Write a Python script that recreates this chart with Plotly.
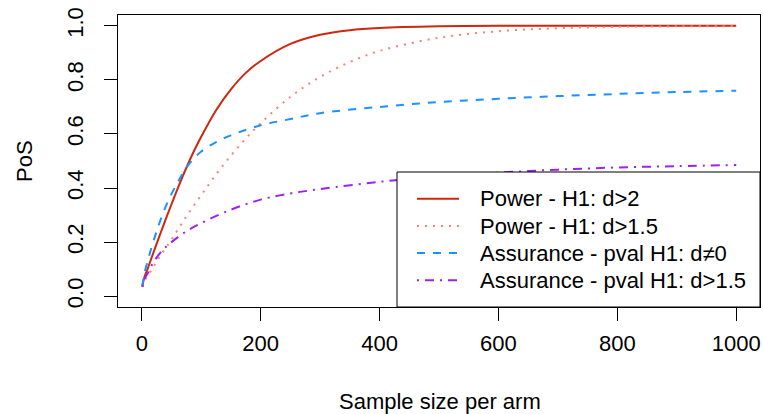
import plotly.graph_objects as go

# ---- data ----
n_red = [1, 3, 5, 10, 20, 30, 40, 50, 60, 75, 90, 100, 125, 150, 175, 200, 250, 300, 350, 400, 500, 600, 700, 800, 900, 1000]
pow_d2 = [0.041, 0.058, 0.074, 0.102, 0.164, 0.224, 0.283, 0.34, 0.396, 0.475, 0.547, 0.59, 0.688, 0.765, 0.826, 0.87, 0.933, 0.967, 0.984, 0.992, 0.998, 1.0, 1.0, 1.0, 1.0, 1.0]

n_pink = [1, 5, 10, 20, 30, 50, 75, 100, 125, 150, 175, 200, 250, 300, 350, 400, 500, 600, 700, 800, 900, 1000]
pow_d15 = [0.036, 0.058, 0.075, 0.11, 0.145, 0.21, 0.295, 0.374, 0.45, 0.52, 0.583, 0.64, 0.737, 0.811, 0.866, 0.907, 0.956, 0.98, 0.991, 0.996, 0.998, 0.999]

n_blue = [1, 5, 10, 15, 25, 40, 60, 80, 100, 125, 150, 200, 250, 300, 400, 500, 600, 700, 800, 900, 1000]
ass_d0 = [0.035, 0.09, 0.13, 0.17, 0.24, 0.33, 0.42, 0.49, 0.535, 0.57, 0.595, 0.632, 0.655, 0.677, 0.70, 0.718, 0.73, 0.74, 0.748, 0.755, 0.76]

n_purple = [1, 5, 10, 20, 35, 50, 75, 100, 150, 200, 250, 300, 400, 500, 600, 700, 800, 900, 1000]
ass_d15 = [0.034, 0.065, 0.085, 0.127, 0.17, 0.2, 0.24, 0.27, 0.32, 0.357, 0.38, 0.396, 0.423, 0.443, 0.457, 0.468, 0.476, 0.481, 0.485]

legend_labels = ["Power - H1: d>2", "Power - H1: d>1.5",
                 "Assurance - pval H1: d\u22600", "Assurance - pval H1: d>1.5"]
colors = ["#D0260E", "#FA8072", "#1E90FF", "#A020F0"]
dashes = ["solid", "2px,6px", "8px,8px", "2px,6px,9px,6px"]

x_ticks = [0, 200, 400, 600, 800, 1000]
y_ticks = [0.0, 0.2, 0.4, 0.6, 0.8, 1.0]
y_ticktext = ["0.0", "0.2", "0.4", "0.6", "0.8", "1.0"]

FONT = "Liberation Sans, Arial, sans-serif"
FS = 22

W, H = 763, 414
L, R, T, B = 118, 3, 15, 107
PW, PH = W - L - R, H - T - B


def px(x):
    return (x - L) / PW


def py(y):
    return (H - B - y) / PH


fig = go.Figure()
series = [(n_red, pow_d2), (n_pink, pow_d15), (n_blue, ass_d0), (n_purple, ass_d15)]
for (xs, ys), c, d, name in zip(series, colors, dashes, legend_labels):
    fig.add_trace(go.Scatter(x=xs, y=ys, mode="lines", name=name,
                             line=dict(color=c, width=2, dash=d, shape="spline", smoothing=1.0),
                             showlegend=False))

shapes = [dict(type="rect", xref="paper", yref="paper", x0=px(397), x1=1, y0=0, y1=py(172),
               line=dict(color="black", width=1), fillcolor="white", layer="above")]
annotations = []
legend_y = [198.7, 226, 253, 280.3]
for lab, c, d, yy in zip(legend_labels, colors, dashes, legend_y):
    shapes.append(dict(type="line", xref="paper", yref="paper", x0=px(417), x1=px(459),
                       y0=py(yy), y1=py(yy), line=dict(color=c, width=2, dash=d), layer="above"))
    annotations.append(dict(text=lab, xref="paper", yref="paper", x=px(478), y=py(yy),
                            xanchor="left", yanchor="middle", showarrow=False,
                            font=dict(family=FONT, size=FS, color="black")))

annotations.append(dict(text="Sample size per arm", xref="paper", yref="paper", x=px(440), y=py(401),
                        xanchor="center", yanchor="middle", showarrow=False,
                        font=dict(family=FONT, size=FS, color="black")))
annotations.append(dict(text="PoS", xref="paper", yref="paper", x=px(24), y=py(161),
                        xanchor="center", yanchor="middle", showarrow=False, textangle=-90,
                        font=dict(family=FONT, size=FS, color="black")))

fig.update_layout(
    width=W, height=H, margin=dict(l=L, r=R, t=T, b=B),
    paper_bgcolor="white", plot_bgcolor="white",
    font=dict(family=FONT, size=FS, color="black"),
    shapes=shapes, annotations=annotations,
    xaxis=dict(range=[-40, 1040], tickvals=x_ticks, ticks="outside", ticklen=13, tickwidth=1,
               tickcolor="black", showline=True, linecolor="black", linewidth=1, mirror=True,
               showgrid=False, zeroline=False, ticklabelstandoff=4,
               tickfont=dict(family=FONT, size=FS)),
    yaxis=dict(range=[-0.04, 1.04], tickvals=y_ticks, ticktext=y_ticktext, ticks="outside",
               ticklen=13, tickwidth=1, tickcolor="black", showline=True, linecolor="black",
               linewidth=1, mirror=True, showgrid=False, zeroline=False, tickangle=-90,
               ticklabelstandoff=12, tickfont=dict(family=FONT, size=FS)),
)

fig.write_html("out.html")
